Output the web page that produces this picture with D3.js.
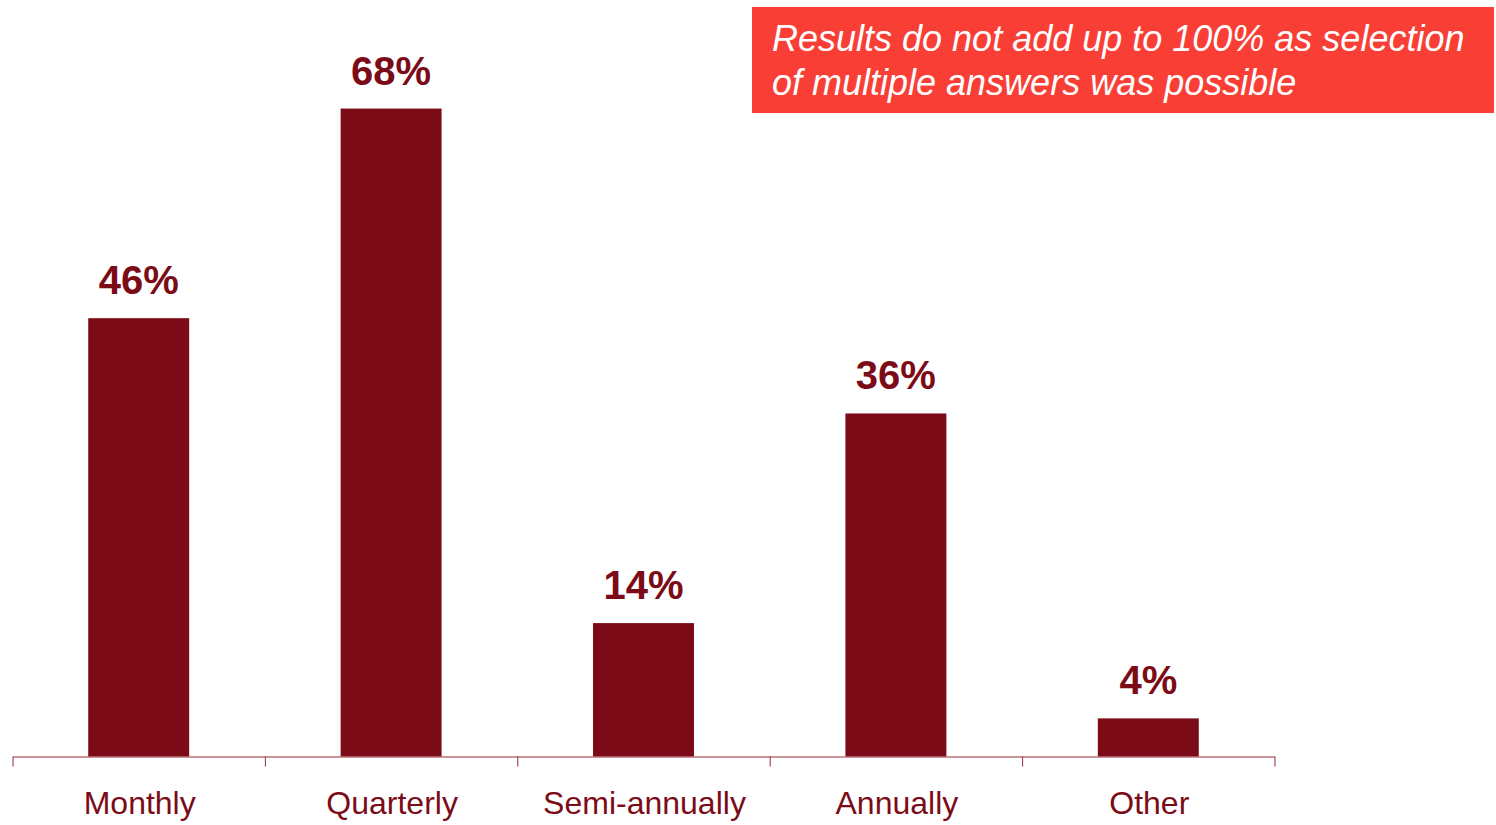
<!DOCTYPE html>
<html>
<head>
<meta charset="utf-8">
<script src="https://cdn.jsdelivr.net/npm/d3@7"></script>
<style>
	body { margin: 0; background: #fff; }
	svg { display: block; font-family: "Liberation Sans", Arial, sans-serif; }
</style>
</head>
<body>
<div id="chart"></div>
<script>
const categories = ["Monthly", "Quarterly", "Semi-annually", "Annually", "Other"];
const shares = [46, 68, 14, 36, 4];
const noteLines = ["Results do not add up to 100% as selection", "of multiple answers was possible"];

const width = 1496, height = 825;
const dark = "#7b0c17";
const baseY = 756.5;

let svg = d3.select("#chart").append("svg")
	.attr("width", width)
	.attr("height", height);

let x = d3.scaleBand()
	.domain(categories)
	.range([12.5, 1274.5])
	.paddingInner(0.6)
	.paddingOuter(0.3);

let y = d3.scaleLinear()
	.domain([0, 70])
	.range([baseY, baseY - 667]);

// bars
svg.selectAll(".bar")
	.data(shares)
	.enter().append("rect")
	.attr("class", "bar")
	.attr("x", (d, i) => x(categories[i]))
	.attr("width", x.bandwidth())
	.attr("y", d => y(d))
	.attr("height", d => y(0) - y(d))
	.attr("fill", dark);

// value labels
svg.selectAll(".val")
	.data(shares)
	.enter().append("text")
	.attr("class", "val")
	.attr("x", (d, i) => x(categories[i]) + x.bandwidth() / 2)
	.attr("y", d => y(d) - 24)
	.attr("text-anchor", "middle")
	.attr("font-size", 40)
	.attr("font-weight", "bold")
	.attr("fill", dark)
	.text(d => d + "%");

// x axis: ticks on the band boundaries
let edges = d3.scaleLinear().domain([0, categories.length]).range(x.range());
svg.append("g")
	.attr("transform", `translate(0, ${baseY})`)
	.call(d3.axisBottom(edges).tickValues(d3.range(categories.length + 1)).tickSize(10).tickSizeOuter(0).tickFormat(""))
	.call(g => g.selectAll("path, line").attr("stroke", "#9a2a34"));

svg.selectAll(".cat")
	.data(categories)
	.enter().append("text")
	.attr("class", "cat")
	.attr("x", d => x(d) + x.bandwidth() / 2 + 1)
	.attr("y", 814)
	.attr("text-anchor", "middle")
	.attr("font-size", 32)
	.attr("fill", dark)
	.text(d => d);

// note box
svg.append("rect")
	.attr("x", 752)
	.attr("y", 7)
	.attr("width", 742)
	.attr("height", 106)
	.attr("fill", "#f93e36");

svg.append("g").selectAll("text")
	.data(noteLines)
	.enter().append("text")
	.attr("x", 772)
	.attr("y", (d, i) => 51 + i * 44)
	.attr("font-size", 36)
	.attr("font-style", "italic")
	.attr("fill", "#fff")
	.text(d => d);
</script>
</body>
</html>
